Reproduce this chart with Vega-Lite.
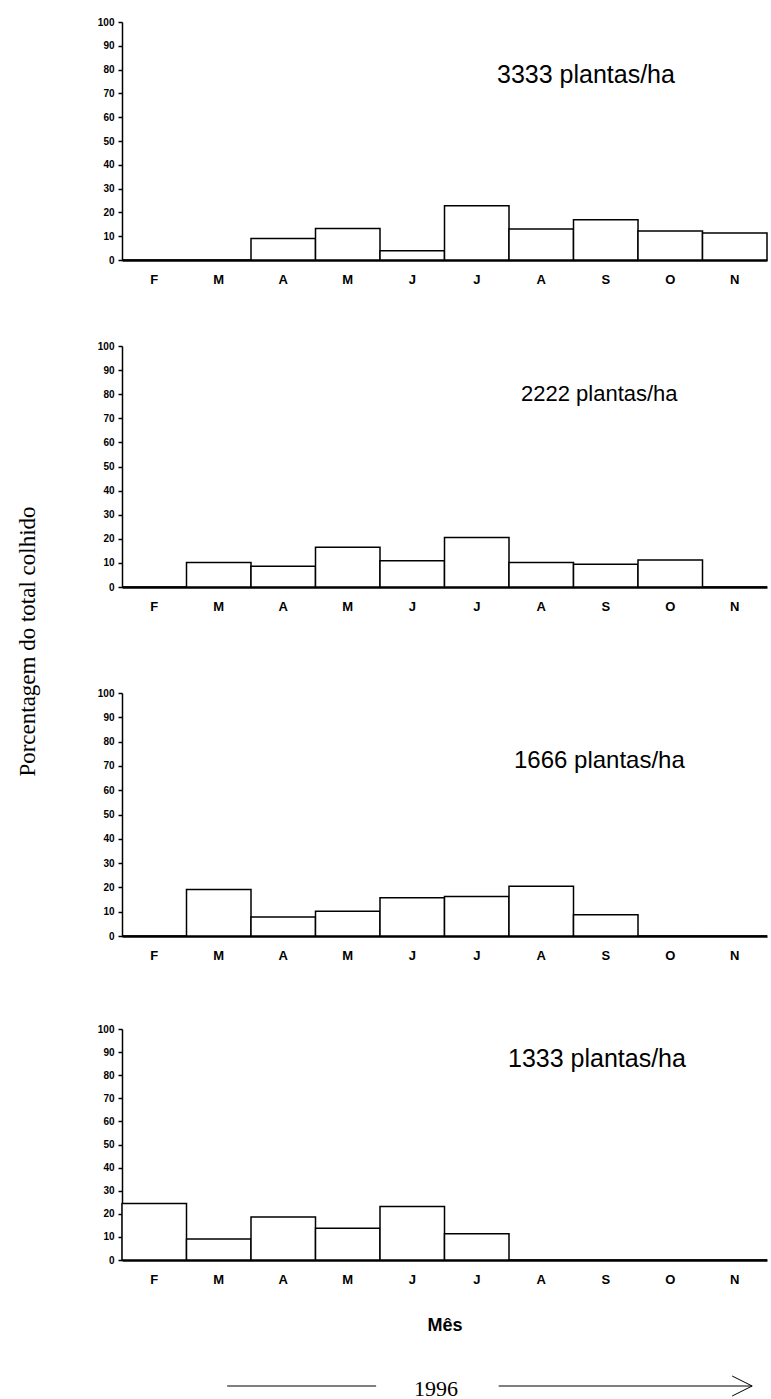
{
  "$schema": "https://vega.github.io/schema/vega-lite/v6.json",
  "background": "white",
  "padding": {"left": 16, "top": 17, "right": 0, "bottom": 0},
  "config": {
    "view": {"stroke": null},
    "title": {"font": "Liberation Sans", "fontWeight": "normal", "color": "black", "anchor": "start", "frame": "group", "orient": "top", "offset": 0, "baseline": "middle", "align": "left"},
    "axisY": {"domainColor": "black", "domainWidth": 1.5, "tickColor": "black", "tickWidth": 1.5, "tickSize": 4, "labelPadding": 4, "labelFont": "Liberation Sans", "labelFontWeight": "bold", "labelFontSize": 10, "labelColor": "black", "labelOverlap": false, "labelFlush": false, "grid": false, "zindex": 1},
    "axisX": {"domainColor": "black", "domainWidth": 2.5, "ticks": false, "labelPadding": 13, "labelFont": "Liberation Sans", "labelFontWeight": "bold", "labelFontSize": 13, "labelColor": "black", "labelAngle": 0, "grid": false, "labelExpr": "substring(datum.label, 0, 1)", "zindex": 1}
  },
  "datasets": {
    "colheita": [
      {"densidade": "3333", "mes": "Fev", "pct": 0},
      {"densidade": "3333", "mes": "Mar", "pct": 0},
      {"densidade": "3333", "mes": "Abr", "pct": 9.0},
      {"densidade": "3333", "mes": "Mai", "pct": 13.2},
      {"densidade": "3333", "mes": "Jun", "pct": 3.9},
      {"densidade": "3333", "mes": "Jul", "pct": 22.8},
      {"densidade": "3333", "mes": "Ago", "pct": 13.0},
      {"densidade": "3333", "mes": "Set", "pct": 16.9},
      {"densidade": "3333", "mes": "Out", "pct": 12.2},
      {"densidade": "3333", "mes": "Nov", "pct": 11.3},
      {"densidade": "2222", "mes": "Fev", "pct": 0},
      {"densidade": "2222", "mes": "Mar", "pct": 10.2},
      {"densidade": "2222", "mes": "Abr", "pct": 8.6},
      {"densidade": "2222", "mes": "Mai", "pct": 16.5},
      {"densidade": "2222", "mes": "Jun", "pct": 10.9},
      {"densidade": "2222", "mes": "Jul", "pct": 20.5},
      {"densidade": "2222", "mes": "Ago", "pct": 10.2},
      {"densidade": "2222", "mes": "Set", "pct": 9.4},
      {"densidade": "2222", "mes": "Out", "pct": 11.2},
      {"densidade": "2222", "mes": "Nov", "pct": 0},
      {"densidade": "1666", "mes": "Fev", "pct": 0},
      {"densidade": "1666", "mes": "Mar", "pct": 19.1},
      {"densidade": "1666", "mes": "Abr", "pct": 7.8},
      {"densidade": "1666", "mes": "Mai", "pct": 10.2},
      {"densidade": "1666", "mes": "Jun", "pct": 15.7},
      {"densidade": "1666", "mes": "Jul", "pct": 16.3},
      {"densidade": "1666", "mes": "Ago", "pct": 20.5},
      {"densidade": "1666", "mes": "Set", "pct": 8.7},
      {"densidade": "1666", "mes": "Out", "pct": 0},
      {"densidade": "1666", "mes": "Nov", "pct": 0},
      {"densidade": "1333", "mes": "Fev", "pct": 24.5},
      {"densidade": "1333", "mes": "Mar", "pct": 9.1},
      {"densidade": "1333", "mes": "Abr", "pct": 18.6},
      {"densidade": "1333", "mes": "Mai", "pct": 13.7},
      {"densidade": "1333", "mes": "Jun", "pct": 23.2},
      {"densidade": "1333", "mes": "Jul", "pct": 11.4},
      {"densidade": "1333", "mes": "Ago", "pct": 0},
      {"densidade": "1333", "mes": "Set", "pct": 0},
      {"densidade": "1333", "mes": "Out", "pct": 0},
      {"densidade": "1333", "mes": "Nov", "pct": 0}
    ],
    "ano": [
      {"seg": "antes", "inicio": 1.63, "fim": 3.94},
      {"seg": "depois", "inicio": 5.84, "fim": 9.77}
    ],
    "anotexto": [
      {"rotulo": "1996", "centro": 4.87}
    ],
    "vazio": [
      {"texto": ""}
    ]
  },
  "bounds": "flush",
  "spacing": 40,
  "vconcat": [
    {
      "width": 645, "height": 238,
      "title": {"text": "3333 plantas/ha", "fontSize": 25, "dx": 375, "dy": 75},
      "data": {"name": "colheita"},
      "transform": [{"filter": "datum.densidade == '3333'"}],
      "mark": {"type": "bar", "fill": "white", "stroke": "black", "strokeWidth": 1.5},
      "encoding": {
        "x": {"field": "mes", "type": "nominal", "scale": {"domain": ["Fev", "Mar", "Abr", "Mai", "Jun", "Jul", "Ago", "Set", "Out", "Nov"], "paddingInner": 0, "paddingOuter": 0}, "axis": {"title": null}},
        "y": {"field": "pct", "type": "quantitative", "scale": {"domain": [0, 100], "nice": false}, "axis": {"title": null, "tickCount": 20, "labelOverlap": false, "values": [0, 10, 20, 30, 40, 50, 60, 70, 80, 90, 100]}}
      }
    },
    {
      "width": 645, "height": 6,
      "data": {"name": "vazio"},
      "mark": {"type": "text"},
      "encoding": {"text": {"field": "texto"}}
    },
    {
      "width": 645, "height": 241,
      "title": {"text": "2222 plantas/ha", "fontSize": 22, "dx": 399, "dy": 69},
      "data": {"name": "colheita"},
      "transform": [{"filter": "datum.densidade == '2222'"}],
      "mark": {"type": "bar", "fill": "white", "stroke": "black", "strokeWidth": 1.5},
      "encoding": {
        "x": {"field": "mes", "type": "nominal", "scale": {"domain": ["Fev", "Mar", "Abr", "Mai", "Jun", "Jul", "Ago", "Set", "Out", "Nov"], "paddingInner": 0, "paddingOuter": 0}, "axis": {"title": null}},
        "y": {"field": "pct", "type": "quantitative", "scale": {"domain": [0, 100], "nice": false}, "axis": {"tickCount": 20, "labelOverlap": false, "values": [0, 10, 20, 30, 40, 50, 60, 70, 80, 90, 100], "title": "Porcentagem do total colhido", "titleFont": "Liberation Serif", "titleFontSize": 23, "titleFontWeight": "normal", "titleColor": "black", "titleAngle": 270, "titleBaseline": "middle", "titleAlign": "center", "titleX": -95, "titleY": 295}}
      }
    },
    {
      "width": 645, "height": 26,
      "data": {"name": "vazio"},
      "mark": {"type": "text"},
      "encoding": {"text": {"field": "texto"}}
    },
    {
      "width": 645, "height": 243,
      "title": {"text": "1666 plantas/ha", "fontSize": 24, "dx": 392, "dy": 89},
      "data": {"name": "colheita"},
      "transform": [{"filter": "datum.densidade == '1666'"}],
      "mark": {"type": "bar", "fill": "white", "stroke": "black", "strokeWidth": 1.5},
      "encoding": {
        "x": {"field": "mes", "type": "nominal", "scale": {"domain": ["Fev", "Mar", "Abr", "Mai", "Jun", "Jul", "Ago", "Set", "Out", "Nov"], "paddingInner": 0, "paddingOuter": 0}, "axis": {"title": null}},
        "y": {"field": "pct", "type": "quantitative", "scale": {"domain": [0, 100], "nice": false}, "axis": {"title": null, "tickCount": 20, "labelOverlap": false, "values": [0, 10, 20, 30, 40, 50, 60, 70, 80, 90, 100]}}
      }
    },
    {
      "width": 645, "height": 13,
      "data": {"name": "vazio"},
      "mark": {"type": "text"},
      "encoding": {"text": {"field": "texto"}}
    },
    {
      "width": 645, "height": 231,
      "title": {"text": "1333 plantas/ha", "fontSize": 25, "dx": 386, "dy": 52},
      "data": {"name": "colheita"},
      "transform": [{"filter": "datum.densidade == '1333'"}],
      "mark": {"type": "bar", "fill": "white", "stroke": "black", "strokeWidth": 1.5},
      "encoding": {
        "x": {"field": "mes", "type": "nominal", "scale": {"domain": ["Fev", "Mar", "Abr", "Mai", "Jun", "Jul", "Ago", "Set", "Out", "Nov"], "paddingInner": 0, "paddingOuter": 0}, "axis": {"title": "Mês", "titleFont": "Liberation Sans", "titleFontSize": 18, "titleFontWeight": "bold", "titleColor": "black", "titlePadding": 30}},
        "y": {"field": "pct", "type": "quantitative", "scale": {"domain": [0, 100], "nice": false}, "axis": {"title": null, "tickCount": 20, "labelOverlap": false, "values": [0, 10, 20, 30, 40, 50, 60, 70, 80, 90, 100]}}
      }
    },
    {
      "width": 645, "height": 13,
      "data": {"name": "vazio"},
      "mark": {"type": "text"},
      "encoding": {"text": {"field": "texto"}}
    },
    {
      "width": 645, "height": 33,
      "layer": [
        {
          "data": {"name": "ano"},
          "mark": {"type": "rule", "stroke": "black", "strokeWidth": 1},
          "encoding": {
            "x": {"field": "inicio", "type": "quantitative", "scale": {"domain": [0, 10]}, "axis": null},
            "x2": {"field": "fim"},
            "y": {"datum": 0, "type": "quantitative", "scale": {"domain": [0, 1]}, "axis": null}
          }
        },
        {
          "data": {"name": "ano"},
          "transform": [{"filter": "datum.seg == 'depois'"}],
          "mark": {"type": "point", "shape": "M-2,-1L0,0L-2,1", "size": 400, "filled": false, "stroke": "black", "strokeWidth": 1, "opacity": 1},
          "encoding": {
            "x": {"field": "fim", "type": "quantitative"},
            "y": {"datum": 0, "type": "quantitative"}
          }
        },
        {
          "data": {"name": "anotexto"},
          "mark": {"type": "text", "font": "Liberation Serif", "fontSize": 22, "baseline": "middle", "dy": 3, "color": "black"},
          "encoding": {
            "x": {"field": "centro", "type": "quantitative"},
            "y": {"datum": 0, "type": "quantitative"},
            "text": {"field": "rotulo"}
          }
        }
      ]
    }
  ]
}
